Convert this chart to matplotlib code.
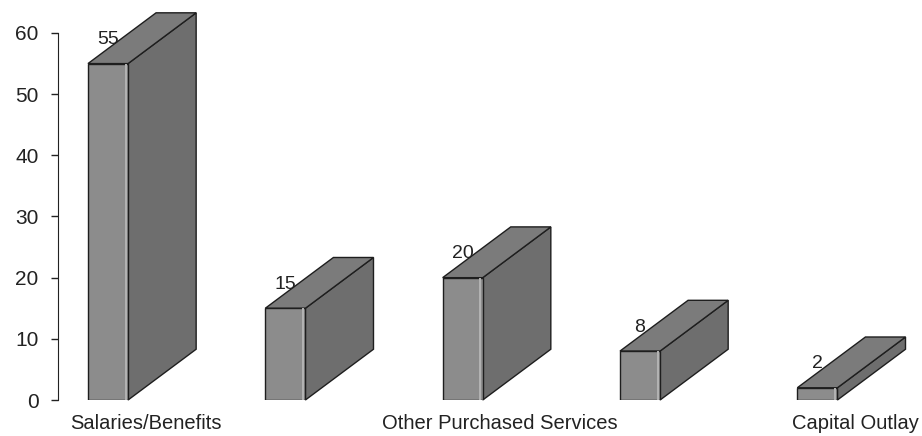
import matplotlib
matplotlib.use("Agg")
import matplotlib.pyplot as plt
from matplotlib.patches import Polygon

# ── Data ─────────────────────────────────────────────
categories = ["Salaries/Benefits", "", "Other Purchased Services", "", "Capital Outlay"]
values = [55, 15, 20, 8, 2]
yticks = [0, 10, 20, 30, 40, 50, 60]

# ── Style ────────────────────────────────────────────
FRONT = "#8c8c8c"
SIDE = "#6e6e6e"
TOP = "#7b7b7b"
EDGE = "#1e1e1e"
BAR_W = 0.226       # front face width (x units)
DEPTH_X = 0.384     # oblique depth offset (x units)
DEPTH_Y = 8.3       # oblique depth offset (y units)

plt.rcParams["font.family"] = ["Liberation Sans", "DejaVu Sans"]

fig = plt.figure(figsize=(9.22, 4.36), dpi=100)
ax = fig.add_axes([58 / 922, 36 / 436, 864 / 922, 387 / 436])

x = list(range(len(values)))
ax.bar(x, values, width=BAR_W, color=FRONT, edgecolor=EDGE, linewidth=1.0, zorder=3)
# light highlight just inside the right edge of each front face
ax.vlines([xi + BAR_W / 2 - 0.014 for xi in x], 0, values,
          colors="#b4b4b4", linewidth=1.4, zorder=3.5)

for xi, v in zip(x, values):
    l, r = xi - BAR_W / 2, xi + BAR_W / 2
    side = [(r, 0), (r + DEPTH_X, DEPTH_Y), (r + DEPTH_X, v + DEPTH_Y), (r, v)]
    top = [(l, v), (r, v), (r + DEPTH_X, v + DEPTH_Y), (l + DEPTH_X, v + DEPTH_Y)]
    ax.add_patch(Polygon(side, closed=True, facecolor=SIDE, edgecolor=EDGE,
                         linewidth=1.0, zorder=2, clip_on=False))
    ax.add_patch(Polygon(top, closed=True, facecolor=TOP, edgecolor=EDGE,
                         linewidth=1.0, zorder=2, clip_on=False))
    ax.text(xi, v + 3.9, str(v), ha="center", va="center",
            fontsize=14, color="#222222", zorder=4)

ax.set_xlim(-0.282, 4.59)
ax.set_ylim(0, 60 * 387 / 367)

ax.set_yticks(yticks)
ax.tick_params(axis="y", length=5, width=1, pad=9, labelsize=15, colors="#222222")
ax.set_xticks([xi + DEPTH_X / 2 + 0.02 for xi in x])
ax.set_xticklabels(categories, fontsize=14.5, color="#222222")
ax.tick_params(axis="x", length=0, pad=10)

for s in ("top", "right", "bottom"):
    ax.spines[s].set_visible(False)
ax.spines["left"].set_bounds(0, 60)
ax.spines["left"].set_color("#222222")

fig.savefig("out.png", dpi=100)
